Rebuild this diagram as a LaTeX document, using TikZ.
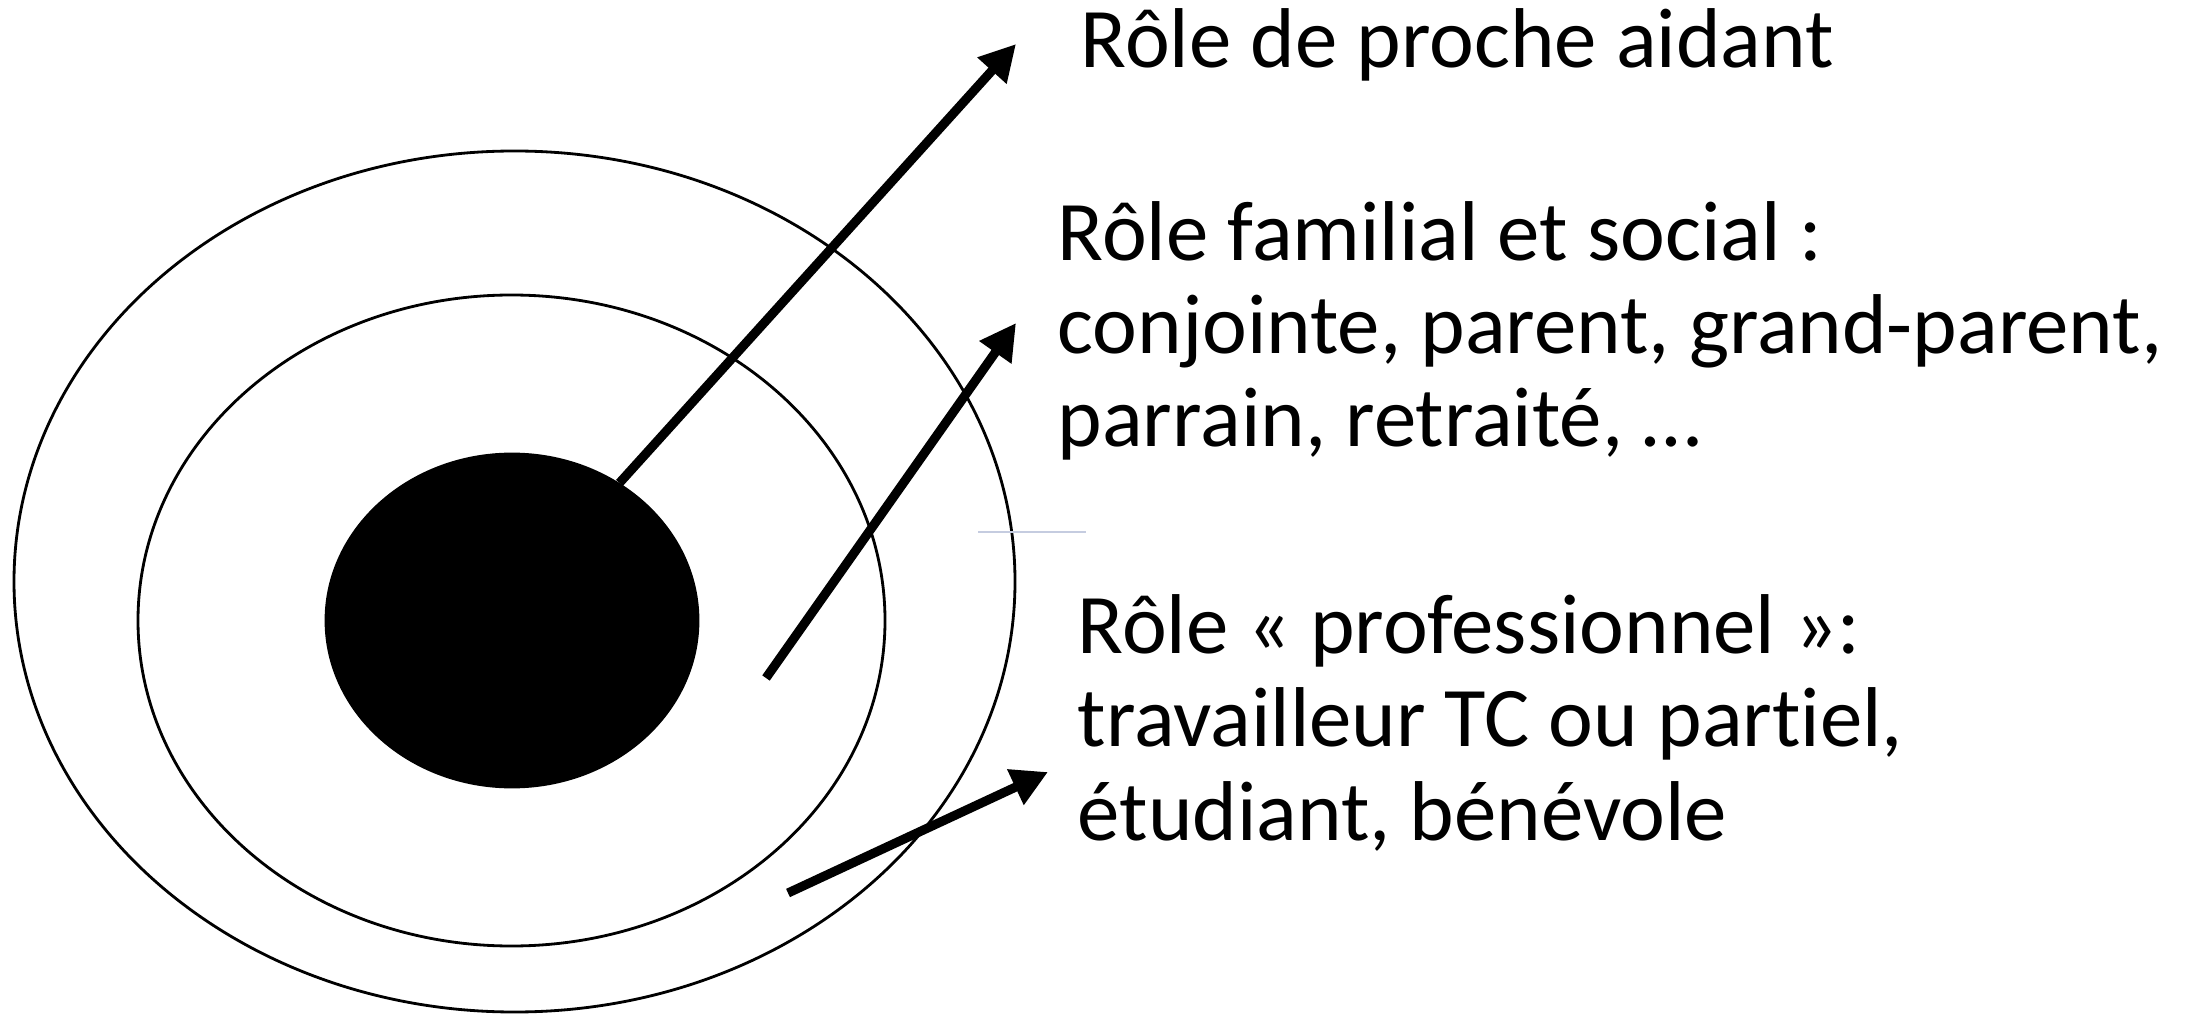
\documentclass[tikz,border=0pt]{standalone}
\usepackage{fontspec}
\setmainfont{Carlito}[RawFeature={-liga;-clig;-calt;-dlig}]
\usetikzlibrary{arrows.meta}
\usetikzlibrary{shapes.geometric}
\usetikzlibrary{positioning}
\definecolor{traitgris}{HTML}{C5CCE0}

\begin{document}
\begin{tikzpicture}[ring/.style={draw,ellipse,line width=0.8pt,inner sep=0pt},
  role/.style={anchor=base west,inner sep=0pt,align=left,font=\fontsize{24.15pt}{26.6pt}\selectfont},
  fleche/.style={line width=2.6pt,-{Triangle[length=0.36cm,width=0.37cm]}}]
  \useasboundingbox (0,0) rectangle (21.92,-10.14);
  \node[ring,minimum width=10.01cm,minimum height=8.61cm] (outer) at (5.145,-5.815){};
  \node[ring,minimum width=7.47cm,minimum height=6.51cm] (middle) at (5.115,-6.205){};
  \node[ring,fill,minimum width=3.72cm,minimum height=3.33cm] (core) at (5.12,-6.205){};
  % base = last line
  \node[role] (aidant) at (10.80,-0.68){Rôle de proche aidant};
  \node[role] (familial) at (10.57,-4.47){Rôle familial et social :\\conjointe, parent, grand-parent,\\parrain, retraité, …};
  \node[role] (pro) at (10.77,-8.40){Rôle « professionnel »:\\travailleur TC ou partiel,\\étudiant, bénévole};
  \coordinate (tip1) at (10.16,-0.44);
  \coordinate (tail2) at (7.66,-6.78);
  \coordinate (tip2) at (10.16,-3.23);
  \coordinate (tail3) at (7.88,-8.93);
  \coordinate (tip3) at (10.48,-7.72);
  \coordinate (ticka) at (9.78,-5.32);
  \coordinate (tickb) at (10.86,-5.32);
  \draw[fleche](core.52)--(tip1);
  \draw[fleche](tail2)--(tip2);
  \draw[fleche](tail3)--(tip3);
  \draw[traitgris,line width=0.85pt](ticka)--(tickb);
\end{tikzpicture}
\end{document}
